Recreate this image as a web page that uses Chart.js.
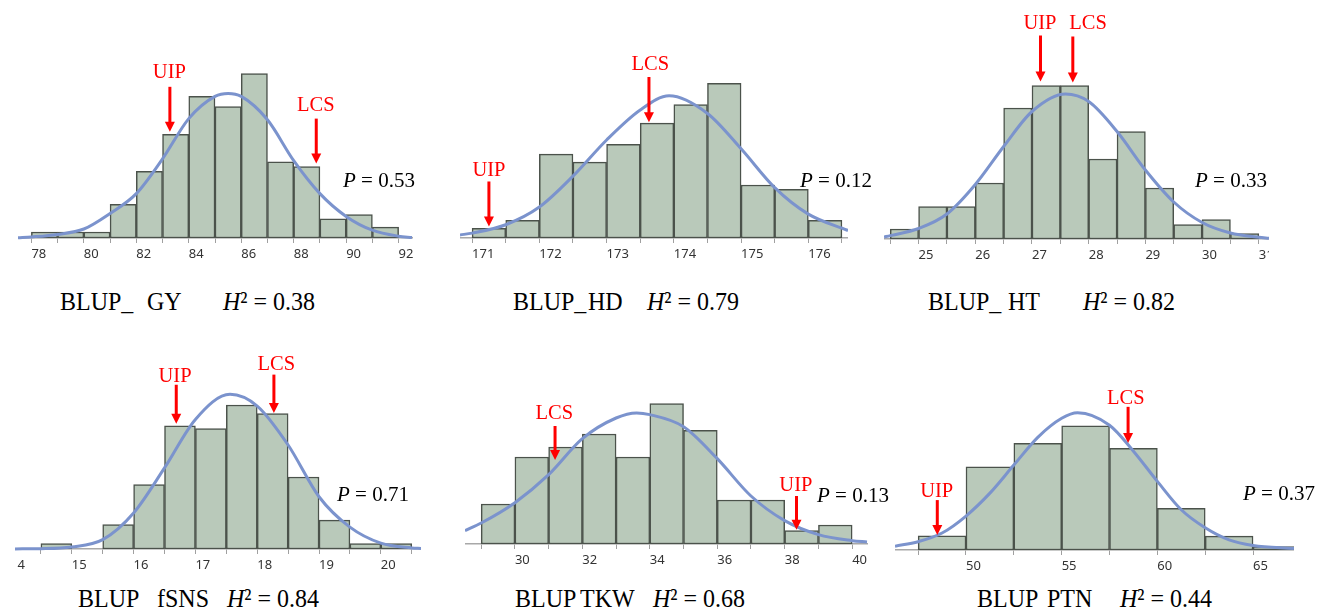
<!DOCTYPE html>
<html>
<head>
<meta charset="utf-8">
<script src="https://cdn.jsdelivr.net/npm/chart.js@4.4.1/dist/chart.umd.min.js"></script>
<style>
    html, body { margin: 0; padding: 0; background: #fff; }
    body { width: 1317px; height: 609px; position: relative; overflow: hidden; }
    canvas { position: absolute; }
    .txt { position: absolute; white-space: nowrap; color: #000;
           font-family: "Liberation Serif", "Times New Roman", serif; }
</style>
</head>
<body>
<script>
// --- dane: krawędzie przedziałów, liczebności, krzywa normalna, etykiety osi ---
const gyEdges = [78, 79, 80, 81, 82, 83, 84, 85, 86, 87, 88, 89, 90, 91, 92];
const gyFreq = [1, 1, 1, 5.6, 11.1, 17.3, 23.6, 21.9, 27.4, 12.7, 11.9, 3.2, 3.9, 1.8];
const gyCurveX = [77.49, 78, 79, 80, 81, 82, 83, 84, 85, 85.5, 86, 87, 88, 89, 90, 91, 92, 92.51];
const gyCurveY = [0.05, 0.18, 0.6, 1.5, 4.1, 7.4, 13.2, 19.9, 23.6, 24.1, 23.6, 19.7, 12.9, 7.4, 3.6, 1.3, 0.3, 0.08];
const gyTickLabels = [78, 80, 82, 84, 86, 88, 90, 92];

const hdEdges = [171, 171.5, 172, 172.5, 173, 173.5, 174, 174.5, 175, 175.5, 176, 176.5];
const hdFreq = [1.1, 2.0, 9.5, 8.6, 10.6, 13.0, 15.1, 17.5, 6.0, 5.5, 2.0];
const hdCurveX = [170.82, 171, 171.5, 172, 172.5, 173, 173.5, 173.93, 174.5, 175, 175.5, 176, 176.59];
const hdCurveY = [0.35, 0.55, 1.5, 3.5, 7.0, 11.1, 14.5, 16.1, 14.1, 10.1, 5.7, 2.7, 0.85];
const hdTickLabels = [171, 172, 173, 174, 175, 176];

const htEdges = [24.5, 25, 25.5, 26, 26.5, 27, 27.5, 28, 28.5, 29, 29.5, 30, 30.5, 31];
const htFreq = [2, 6.5, 6.5, 11.2, 26.2, 30.7, 30.7, 16, 21.5, 10.2, 2.9, 3.9, 1.1];
const htCurveX = [24.39, 24.5, 25, 25.5, 26, 26.5, 27, 27.59, 28, 28.5, 29, 29.5, 30, 30.5, 31, 31.18];
const htCurveY = [0.4, 0.67, 2.1, 5, 10.9, 18.5, 25.5, 29, 27.5, 21.5, 13.8, 7.4, 3.3, 1.2, 0.35, 0.15];
const htTickLabels = [25, 26, 27, 28, 29, 30, 31];

const fsEdges = [14.5, 15, 15.5, 16, 16.5, 17, 17.5, 18, 18.5, 19, 19.5, 20, 20.5];
const fsFreq = [1, 0, 4.6, 12.1, 23.1, 22.6, 27, 25.4, 13.5, 5.4, 1, 1];
const fsCurveX = [14.08, 14.5, 15, 15.5, 16, 16.5, 17, 17.56, 18, 18.5, 19, 19.5, 20, 20.5, 20.65];
const fsCurveY = [0.02, 0.06, 0.38, 1.75, 6.75, 15.2, 24.3, 29, 26.8, 19.5, 9.8, 4.1, 1.1, 0.2, 0.1];
const fsTickLabels = [14, 15, 16, 17, 18, 19, 20];

const tkEdges = [29, 30, 31, 32, 33, 34, 35, 36, 37, 38, 39, 40];
const tkFreq = [6, 13.05, 14.55, 16.5, 13.05, 21.05, 17.05, 6.6, 6.6, 2, 2.85];
const tkCurveX = [28.52, 29, 30, 31, 32, 33, 33.61, 34, 35, 36, 37, 38, 39, 40, 40.44];
const tkCurveY = [2.0, 3.15, 6.2, 10.4, 15.8, 18.9, 19.65, 19.4, 17.6, 12.8, 7.2, 3.5, 1.4, 0.5, 0.3];
const tkTickLabels = [30, 32, 34, 36, 38, 40];

const ptEdges = [47.5, 50, 52.5, 55, 57.5, 60, 62.5, 65, 67.5];
const ptFreq = [4.1, 24, 30.8, 35.8, 29.3, 12, 4, 1];
const ptCurveX = [46.29, 47.5, 48.75, 50, 51.25, 52.5, 53.75, 55, 55.83, 57.5, 58.75, 60, 61.25, 62.5, 63.75, 65, 67.14];
const ptCurveY = [1.1, 2.4, 4.9, 9.8, 16.4, 24.5, 32.5, 38, 39.6, 36, 28.5, 19.8, 11.6, 6.4, 2.9, 1.3, 0.4];
const ptTickLabels = [50, 55, 60, 65];

// strzałki: pozycja w jednostkach danych (x, grot, początek, etykieta)
const gyArrows = [
    { text: 'UIP', x: 83.28, tip: 17.7, tail: 25.2, labelX: 83.26, labelY: 26.6 },
    { text: 'LCS', x: 88.86, tip: 12.4, tail: 19.9, labelX: 88.84, labelY: 21.2 }
];
const hdArrows = [
    { text: 'UIP', x: 171.25, tip: 1.31, tail: 6.4, labelX: 171.25, labelY: 7.0 },
    { text: 'LCS', x: 173.63, tip: 13.1, tail: 18.23, labelX: 173.65, labelY: 19.06 }
];
const htArrows = [
    { text: 'UIP', x: 27.15, tip: 31.5, tail: 40.7, labelX: 27.14, labelY: 42.1 },
    { text: 'LCS', x: 27.72, tip: 31.3, tail: 40.5, labelX: 27.99, labelY: 42.1 }
];
const fsArrows = [
    { text: 'UIP', x: 16.69, tip: 23.5, tail: 30.8, labelX: 16.67, labelY: 31.4 },
    { text: 'LCS', x: 18.27, tip: 25.5, tail: 32.7, labelX: 18.31, labelY: 33.5 }
];
const tkArrows = [
    { text: 'LCS', x: 31.19, tip: 12.6, tail: 17.7, labelX: 31.17, labelY: 18.8 },
    { text: 'UIP', x: 38.35, tip: 2.15, tail: 7.2, labelX: 38.33, labelY: 8.0 }
];
const ptArrows = [
    { text: 'UIP', x: 48.5, tip: 4.3, tail: 14.4, labelX: 48.47, labelY: 15.3 },
    { text: 'LCS', x: 58.47, tip: 30.9, tail: 41.3, labelX: 58.35, labelY: 42.1 }
];

const traitNames = ['GY', 'HD', 'HT', 'fSNS', 'TKW', 'PTN'];
const heritability = ['0.38', '0.79', '0.82', '0.84', '0.68', '0.44'];
const pValues = ['0.53', '0.12', '0.33', '0.71', '0.13', '0.37'];

// --- układ paneli (box: left, top, width, height w px) ---
const panels = [
    { edges: gyEdges, freq: gyFreq, cx: gyCurveX, cy: gyCurveY, ticks: gyEdges, labels: gyTickLabels, arrows: gyArrows,
      min: 77.49, max: 92.51, yMax: 39.67, box: [18, 0, 398, 268], padRight: 4, clip: 0, title: [60, 147, 223, 310], p: [343, 188] },
    { edges: hdEdges, freq: hdFreq, cx: hdCurveX, cy: hdCurveY, ticks: hdEdges, labels: hdTickLabels, arrows: hdArrows,
      min: 170.82, max: 176.59, yMax: 26.95, box: [460, 0, 388, 268], padRight: 0, clip: 0, title: [513, 588, 647, 310], p: [800, 188] },
    { edges: htEdges, freq: htFreq, cx: htCurveX, cy: htCurveY, ticks: htEdges, labels: htTickLabels, arrows: htArrows,
      min: 24.39, max: 31.18, yMax: 47.8, box: [884, 0, 385, 269], padRight: 0, clip: 0, title: [928, 1008, 1083, 310], p: [1195, 188] },
    { edges: fsEdges, freq: fsFreq, cx: fsCurveX, cy: fsCurveY, ticks: [14].concat(fsEdges), labels: fsTickLabels, arrows: fsArrows,
      min: 14, max: 20.65, yMax: 39.19, box: [10, 340, 411, 239], padRight: 0, clip: 5, title: [78, 157, 227, 607.5], p: [337, 502] },
    { edges: tkEdges, freq: tkFreq, cx: tkCurveX, cy: tkCurveY, ticks: tkEdges, labels: tkTickLabels, arrows: tkArrows,
      min: 28.52, max: 40.44, yMax: 30.6, box: [465, 340, 405, 234], padRight: 3, clip: 0, title: [515, 580, 653, 607.5], p: [817, 503] },
    { edges: ptEdges, freq: ptFreq, cx: ptCurveX, cy: ptCurveY, ticks: ptEdges, labels: ptTickLabels, arrows: ptArrows,
      min: 46.29, max: 67.14, yMax: 60.58, box: [895, 340, 399, 240], padRight: 0, clip: 0, title: [977, 1047, 1120, 607.5], p: [1243, 501] }
];

const arrowPlugin = {
    id: 'arrows',
    afterDatasetsDraw(chart, args, opts) {
        const { ctx } = chart;
        const x = chart.scales.x, y = chart.scales.y;
        ctx.save();
        ctx.fillStyle = '#ff0000';
        ctx.strokeStyle = '#ff0000';
        ctx.font = '20.5px "Liberation Serif", "Times New Roman", serif';
        ctx.textAlign = 'center';
        ctx.textBaseline = 'alphabetic';
        (opts.items || []).forEach(a => {
            const px = x.getPixelForValue(a.x);
            const tip = y.getPixelForValue(a.tip);
            const tail = y.getPixelForValue(a.tail);
            ctx.lineWidth = 3;
            ctx.beginPath();
            ctx.moveTo(px, tail);
            ctx.lineTo(px, tip - 9);
            ctx.stroke();
            ctx.beginPath();
            ctx.moveTo(px - 5, tip - 10);
            ctx.lineTo(px + 5, tip - 10);
            ctx.lineTo(px, tip);
            ctx.closePath();
            ctx.fill();
            ctx.fillText(a.text, x.getPixelForValue(a.labelX), y.getPixelForValue(a.labelY));
        });
        ctx.restore();
    }
};

function addText(html, x, baseline, size, stretch) {
    const el = document.createElement('div');
    const asc = size * 0.8375;
    el.className = 'txt';
    el.style.left = x + 'px';
    el.style.top = (baseline - asc) + 'px';
    el.style.fontSize = size + 'px';
    el.style.lineHeight = size + 'px';
    if (stretch) {
        el.style.transformOrigin = '0 ' + asc + 'px';
        el.style.transform = 'scaleY(' + stretch + ')';
    }
    el.innerHTML = html;
    document.body.appendChild(el);
}

panels.forEach((p, i) => {
    const canvas = document.createElement('canvas');
    const [left, top, w, h] = p.box;
    canvas.width = w;
    canvas.height = h;
    canvas.style.left = left + 'px';
    canvas.style.top = top + 'px';
    if (p.clip) canvas.style.clipPath = 'inset(0 0 0 ' + p.clip + 'px)';
    document.body.appendChild(canvas);

    const bars = p.freq.map((f, k) => ({ x: (p.edges[k] + p.edges[k + 1]) / 2, y: f }));
    const curve = p.cx.map((v, k) => ({ x: v, y: p.cy[k] }));
    const labels = p.labels;

    new Chart(canvas, {
        type: 'bar',
        data: {
            datasets: [
                {
                    type: 'line',
                    data: curve,
                    borderColor: '#7b93cd',
                    borderWidth: 3,
                    pointRadius: 0,
                    cubicInterpolationMode: 'monotone',
                    clip: false,
                    order: 0
                },
                {
                    type: 'bar',
                    data: bars,
                    backgroundColor: '#b9c9ba',
                    borderColor: '#4b524b',
                    borderWidth: 1.5,
                    borderSkipped: false,
                    barPercentage: 1,
                    categoryPercentage: 1,
                    clip: false,
                    order: 1
                }
            ]
        },
        options: {
            responsive: false,
            animation: false,
            devicePixelRatio: 1,
            layout: { padding: { left: 0, top: 0, bottom: 0, right: p.padRight } },
            plugins: {
                legend: { display: false },
                tooltip: { enabled: false },
                arrows: { items: p.arrows }
            },
            scales: {
                x: {
                    type: 'linear',
                    min: p.min,
                    max: p.max,
                    offset: false,
                    grid: { offset: false, drawOnChartArea: false, drawTicks: true, tickLength: 5, color: '#a0a0a0', lineWidth: 1 },
                    border: { display: true, color: '#a8a8a8', width: 1.5 },
                    ticks: {
                        align: 'start',
                        padding: 3,
                        autoSkip: false,
                        maxRotation: 0,
                        minRotation: 0,
                        color: '#333',
                        font: { family: '"Noto Sans", sans-serif', size: 13 },
                        callback: v => labels.some(l => Math.abs(l - v) < 1e-6) ? String(v) : ''
                    },
                    afterBuildTicks: s => { s.ticks = p.ticks.map(v => ({ value: v })); },
                    afterFit: s => { s.height = 30; s.paddingLeft = 0; s.paddingRight = 0; }
                },
                y: { display: false, min: 0, max: p.yMax }
            }
        },
        plugins: [arrowPlugin]
    });

    addText('BLUP_', p.title[0], p.title[3], 24, 1.08);
    addText(traitNames[i], p.title[1], p.title[3], 24, 1.08);
    addText('<i>H</i>² = ' + heritability[i], p.title[2], p.title[3], 24, 1.08);
    addText('<i>P</i> = ' + pValues[i], p.p[0], p.p[1], 21);
});
</script>
</body>
</html>
